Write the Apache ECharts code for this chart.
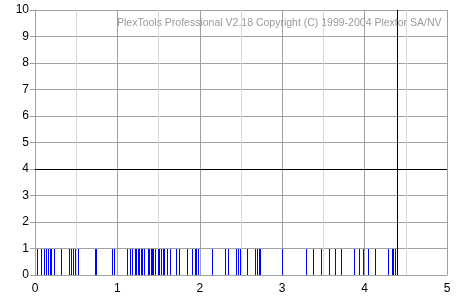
<!DOCTYPE html>
<html>
<head>
<meta charset="utf-8">
<script src="https://cdn.jsdelivr.net/npm/echarts@6/dist/echarts.min.js"></script>
<style>html,body{margin:0;padding:0;background:#fff;}#c{width:467px;height:300px;}</style>
</head>
<body>
<div id="c"></div>
<script>
const titleText = "PlexTools Professional V2.18 Copyright (C) 1999-2004 Plextor SA/NV";
const xTicks = [0, 1, 2, 3, 4, 5];
const yTicks = [0, 1, 2, 3, 4, 5, 6, 7, 8, 9, 10];
const barX = [0.024, 0.069, 0.109, 0.133, 0.158, 0.176, 0.198, 0.234, 0.319, 0.416, 0.44, 0.467, 0.481, 0.518, 0.731, 0.743, 0.933, 0.954,
  1.119, 1.148, 1.179, 1.208, 1.228, 1.252, 1.267, 1.281, 1.293, 1.325, 1.366, 1.382, 1.406, 1.42, 1.434, 1.455, 1.487, 1.507, 1.524, 1.548, 1.567,
  1.6, 1.636, 1.709, 1.745, 1.842, 1.903, 1.939, 1.958, 1.976, 2.145, 2.307, 2.343, 2.44, 2.464, 2.49, 2.573, 2.67, 2.69, 2.715, 2.736, 2.994,
  3.289, 3.374, 3.47, 3.567, 3.64, 3.717, 3.87, 3.93, 3.98, 4.04, 4.125, 4.28, 4.33, 4.345, 4.37];
const barHeight = barX.map(() => 1);
const hLineY = 4;
const vLineX = 4.388;

const chart = echarts.init(document.getElementById('c'), null, {renderer: 'canvas'});
const font = '"Liberation Sans", Arial, sans-serif';
chart.setOption({
  animation: false,
  backgroundColor: '#ffffff',
  title: {
    text: titleText, left: 117, top: 18, padding: 0,
    textStyle: {fontSize: 10.5, fontWeight: 'normal', color: '#9a9a9a', fontFamily: font}
  },
  grid: {left: 35, right: 20, top: 10, bottom: 25},
  xAxis: {
    type: 'value', min: xTicks[0], max: xTicks[xTicks.length - 1], interval: 1,
    axisLine: {show: true, lineStyle: {color: '#a0a0a0'}},
    axisTick: {show: false},
    axisLabel: {color: '#000', fontSize: 12, fontFamily: font, margin: 8},
    splitLine: {show: true, lineStyle: {color: '#a0a0a0', width: 1}},
    minorTick: {show: false, splitNumber: 2},
    minorSplitLine: {show: true, lineStyle: {color: '#d8d8d8', width: 1}}
  },
  yAxis: {
    type: 'value', min: yTicks[0], max: yTicks[yTicks.length - 1], interval: 1,
    axisLine: {show: true, lineStyle: {color: '#a0a0a0'}},
    axisTick: {show: true, length: 5, lineStyle: {color: '#a0a0a0'}},
    axisLabel: {color: '#000', fontSize: 12, fontFamily: font, margin: 6},
    splitLine: {show: true, lineStyle: {color: '#a0a0a0', width: 1}}
  },
  series: [{
    type: 'custom',
    data: barX.map((x, i) => [x, barHeight[i]]),
    renderItem: function (params, api) {
      const p0 = api.coord([api.value(0), 0]);
      const p1 = api.coord([api.value(0), api.value(1)]);
      return {
        type: 'rect',
        shape: {x: Math.round(p0[0]), y: Math.round(p1[1]), width: 1, height: Math.round(p0[1]) - Math.round(p1[1])},
        style: {fill: '#0000ff'}
      };
    },
    z: 3
  }, {
    type: 'custom',
    data: [[vLineX, hLineY]],
    renderItem: function (params, api) {
      const xv = api.value(0), yv = api.value(1);
      const a = api.coord([xv, 0]);
      const b = api.coord([xv, 10]);
      const c = api.coord([0, yv]);
      const d = api.coord([5, yv]);
      const vx = Math.round(a[0]) + 0.5;
      const hy = Math.round(c[1]) + 0.5;
      return {
        type: 'group',
        children: [
          {type: 'line', shape: {x1: c[0], y1: hy, x2: d[0], y2: hy}, style: {stroke: '#000', lineWidth: 1}},
          {type: 'line', shape: {x1: vx, y1: b[1], x2: vx, y2: a[1]}, style: {stroke: '#000', lineWidth: 1}}
        ]
      };
    },
    z: 4
  }]
});
</script>
</body>
</html>
